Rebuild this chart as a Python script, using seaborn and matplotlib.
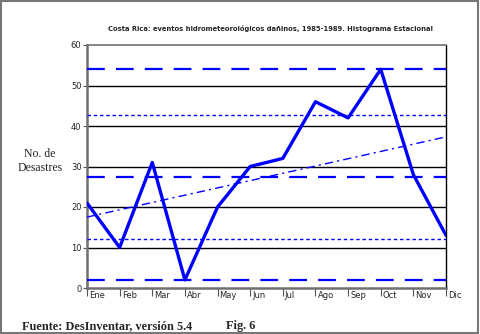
import numpy as np
import pandas as pd
import matplotlib
matplotlib.use("Agg")
import matplotlib.pyplot as plt
import matplotlib.transforms as mtransforms
import seaborn as sns
from matplotlib.patches import Rectangle

months = ["Ene", "Feb", "Mar", "Abr", "May", "Jun", "Jul", "Ago", "Sep", "Oct", "Nov", "Dic"]
desastres = [21, 10, 31, 2, 20, 30, 32, 46, 42, 54, 28, 13]

title = "Costa Rica: eventos hidrometeorológicos dañinos, 1985-1989. Histograma Estacional"
ylabel = "No. de\nDesastres"
source = "Fuente: DesInventar, versión 5.4"
fig_label = "Fig. 6"

df = pd.DataFrame({"pos": np.arange(len(months)), "mes": months, "n": desastres})

sns.set_style("white")
plt.rcParams["font.family"] = ["DejaVu Sans"]

fig = plt.figure(figsize=(4.8, 3.34), dpi=100)
ax = fig.add_axes([87 / 480, 1 - 288 / 334, 359 / 480, 243 / 334])

vals = df["n"].to_numpy(dtype=float)
mean = vals.mean()
std = vals.std(ddof=1)
blue = "#0000ff"

# reference levels: extremes, mean, mean +/- one std
for lvl in (vals.max(), mean, vals.min()):
    ax.axhline(lvl, color=blue, lw=1.6, dashes=(8, 5), zorder=3)
for lvl in (mean + std, mean - std):
    ax.axhline(lvl, color=blue, lw=1.0, dashes=(2.5, 2), zorder=3)

# gridlines
for g in (10, 20, 30, 40, 50):
    ax.axhline(g, color="black", lw=1.0, zorder=1)

# linear trend
coef = np.polyfit(df["pos"], vals, 1)
trend = pd.DataFrame({"pos": df["pos"], "t": np.polyval(coef, df["pos"])})
sns.lineplot(data=trend, x="pos", y="t", ax=ax, color=blue, lw=1.0,
             dashes=False, zorder=4)
ax.lines[-1].set_dashes((6, 3, 1.5, 3))

sns.lineplot(data=df, x="pos", y="n", ax=ax, color=blue, lw=2.4, zorder=5)

ax.set_xlim(0, 11)
ax.set_ylim(0, 60)
ax.set_xlabel("")
ax.set_ylabel("")

ax.set_yticks(range(0, 61, 10))
ax.set_yticklabels([str(v) for v in range(0, 61, 10)], fontsize=6,
                   family="DejaVu Sans Condensed")
ax.tick_params(axis="y", length=3, width=0.8, color="#555555", pad=1, left=True)

ax.set_xticks(df["pos"])
ax.set_xticklabels(df["mes"], fontsize=6, family="DejaVu Sans Condensed",
                   ha="left")
ax.tick_params(axis="x", length=6, width=0.8, color="#555555", pad=-4, bottom=True)
shift = mtransforms.ScaledTranslation(2 / 100, 0, fig.dpi_scale_trans)
for lab in ax.get_xticklabels():
    lab.set_transform(lab.get_transform() + shift)

for side in ("left", "bottom"):
    ax.spines[side].set_color("#707070")
    ax.spines[side].set_linewidth(1.8)
ax.spines["top"].set_color("#707070")
ax.spines["top"].set_linewidth(1.2)
ax.spines["right"].set_color("black")
ax.spines["right"].set_linewidth(1.0)

fig.text(270 / 480, 1 - 28 / 334, title, fontsize=4.9, weight="bold",
         ha="center", va="center", family="DejaVu Sans Condensed")
fig.text(40 / 480, 1 - 161 / 334, ylabel, fontsize=8.5, ha="center",
         va="center", family="Liberation Serif", linespacing=1.3)
fig.text(22 / 480, 1 - 329 / 334, source, fontsize=8.8, weight="bold",
         ha="left", va="baseline", family="Liberation Serif")
fig.text(226 / 480, 1 - 329 / 334, fig_label, fontsize=8.8, weight="bold",
         ha="left", va="baseline", family="Liberation Serif")

fig.patches.append(Rectangle((0.002, 0.003), 0.993, 0.994, transform=fig.transFigure,
                             fill=False, edgecolor="#777777", lw=1.5))

fig.savefig("out.png", dpi=100)
